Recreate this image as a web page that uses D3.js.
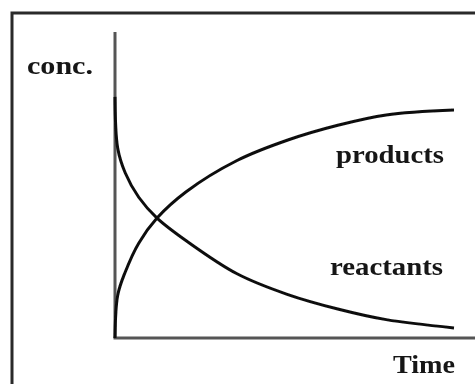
<!DOCTYPE html>
<html>
<head>
<meta charset="utf-8">
<script src="https://cdn.jsdelivr.net/npm/d3@7"></script>
<style>
  html, body { margin: 0; padding: 0; background: #fff; }
  svg { display: block; }
  text { font-family: "Liberation Serif", "Times New Roman", serif; font-weight: bold; fill: #151515; }
</style>
</head>
<body>
<svg id="chart" width="475" height="384"></svg>
<script>
// Sampled times and the two concentration curves (arbitrary units)
const time      = [0, 0.08, 0.3, 0.7, 1.24, 2.1, 3.6, 5.1, 6.6, 8.0, 10];
const reactants = [0.788, 0.62, 0.54, 0.46, 0.392, 0.318, 0.21, 0.142, 0.094, 0.06, 0.033];
const products  = [0, 0.14, 0.215, 0.31, 0.392, 0.478, 0.58, 0.647, 0.696, 0.729, 0.745];

// Text labels
const yTitle = "conc.";
const xTitle = "Time";
const seriesNames = ["products", "reactants"];

const W = 475, H = 384;
const svg = d3.select("#chart");

const x = d3.scaleLinear().domain([0, 10]).range([115, 454]);
const y = d3.scaleLinear().domain([0, 1]).range([338, 32]);

const soft = svg.append("defs").append("filter").attr("id", "soft");
soft.append("feGaussianBlur").attr("stdDeviation", 0.45);

const g = svg.append("g").attr("filter", "url(#soft)");

// Outer frame (extends past the right and bottom edges)
g.append("rect")
  .attr("x", 12).attr("y", 13)
  .attr("width", W + 20).attr("height", H + 20)
  .attr("fill", "none").attr("stroke", "#2a2a2a").attr("stroke-width", 3);

// Axes
g.append("line")
  .attr("x1", x(0)).attr("x2", x(0))
  .attr("y1", y(0)).attr("y2", y(1))
  .attr("stroke", "#555").attr("stroke-width", 3);
g.append("line")
  .attr("x1", x(0) - 1.5).attr("x2", W)
  .attr("y1", y(0)).attr("y2", y(0))
  .attr("stroke", "#555").attr("stroke-width", 3);

// Curves
const line = d3.line()
  .x(d => x(d[0]))
  .y(d => y(d[1]))
  .curve(d3.curveCatmullRom.alpha(0.5));

[reactants, products].forEach(vals => {
  g.append("path")
    .datum(time.map((t, i) => [t, vals[i]]))
    .attr("d", line)
    .attr("fill", "none")
    .attr("stroke", "#111")
    .attr("stroke-width", 3);
});

// Labels
const labels = [
  { text: yTitle,          x: 27,  y: 74,  len: 66 },
  { text: seriesNames[0],  x: 336, y: 163, len: 108 },
  { text: seriesNames[1],  x: 330, y: 275, len: 113 },
  { text: xTitle,          x: 393, y: 373, len: 62 }
];
g.selectAll("text.lbl")
  .data(labels)
  .join("text")
  .attr("class", "lbl")
  .attr("x", d => d.x)
  .attr("y", d => d.y)
  .attr("font-size", 26)
  .attr("textLength", d => d.len)
  .attr("lengthAdjust", "spacingAndGlyphs")
  .text(d => d.text);
</script>
</body>
</html>
